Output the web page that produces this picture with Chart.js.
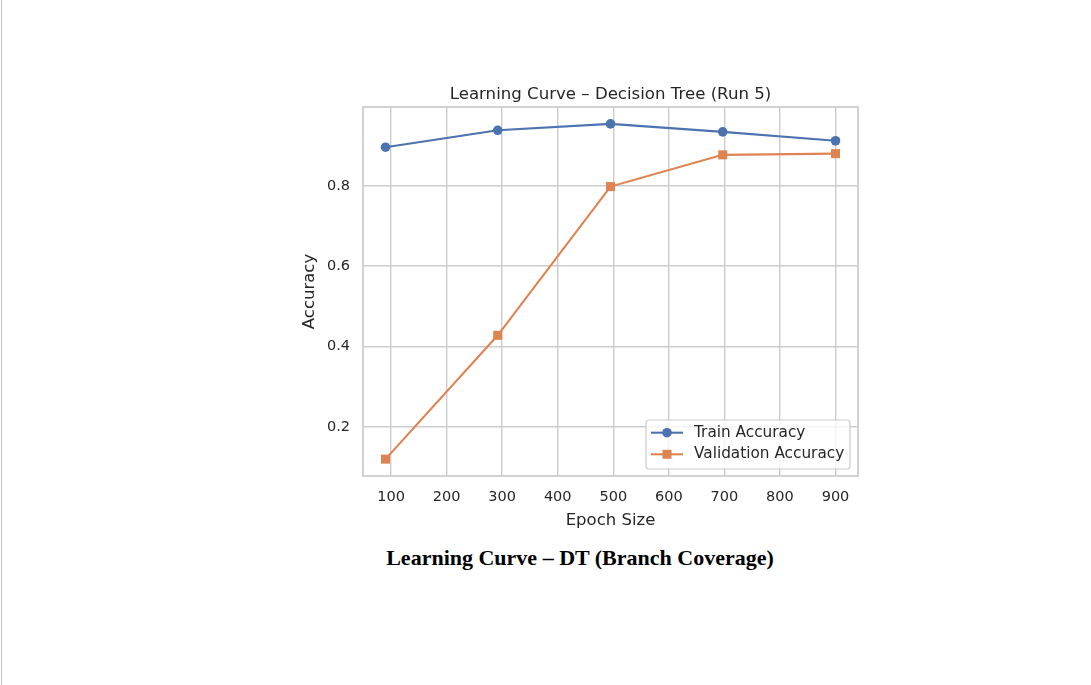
<!DOCTYPE html>
<html>
<head>
<meta charset="utf-8">
<script src="https://cdn.jsdelivr.net/npm/chart.js@4.4.1/dist/chart.umd.min.js"></script>
<style>
  html, body { margin: 0; padding: 0; background: #fff; }
  body { width: 1091px; height: 685px; position: relative; overflow: hidden; }
  #edge { position: absolute; left: 1px; top: 0; width: 1px; height: 685px; background: #c4c4c4; }
  #wrap { position: absolute; left: 280px; top: 70px; width: 600px; height: 470px; }
  #caption { position: absolute; left: 280px; width: 600px; top: 545px; text-align: center;
    font-family: "Liberation Serif", "Times New Roman", serif; font-weight: bold; font-size: 22px; color: #000; }
</style>
</head>
<body>
<div id="edge"></div>
<div id="wrap"><canvas id="c" width="600" height="470"></canvas></div>
<div id="caption">Learning Curve – DT (Branch Coverage)</div>
<script>
const epochSizes = [90, 292, 495, 697, 900];
const trainAccuracy = [0.896, 0.938, 0.954, 0.934, 0.912];
const validationAccuracy = [0.120, 0.428, 0.798, 0.877, 0.880];
const seriesNames = ["Train Accuracy", "Validation Accuracy"];
const xTicks = [100, 200, 300, 400, 500, 600, 700, 800, 900];
const yTicks = [0.2, 0.4, 0.6, 0.8];
const chartTitle = "Learning Curve – Decision Tree (Run 5)";
const xTitle = "Epoch Size";
const yTitle = "Accuracy";

const BLUE = "#4C72B0", ORANGE = "#DD8452", GRID = "#cccccc", TEXT = "#262626";
const FONT = "'DejaVu Sans', sans-serif";

function toPts(xs, ys) { return xs.map((x, i) => ({ x: x, y: ys[i] })); }

const titlePlugin = {
  id: 'areaTitle',
  afterDraw(chart) {
    const { ctx, chartArea: a } = chart;
    ctx.save();
    ctx.fillStyle = TEXT;
    ctx.font = "16.6px " + FONT;
    ctx.textAlign = "center";
    ctx.textBaseline = "middle";
    ctx.fillText(chartTitle, (a.left + a.right) / 2, 25);
    ctx.restore();
  }
};

const framePlugin = {
  id: 'frame',
  afterDatasetsDraw(chart) {
    const { ctx, chartArea: a } = chart;
    ctx.save();
    ctx.strokeStyle = GRID;
    ctx.lineWidth = 1.75;
    ctx.strokeRect(a.left, a.top, a.right - a.left, a.bottom - a.top);
    ctx.restore();
  }
};

const legendPlugin = {
  id: 'boxLegend',
  afterDraw(chart) {
    const { ctx, chartArea: a } = chart;
    const w = 204, h = 49;
    const right = a.right - 8, bottom = a.bottom - 7;
    const left = right - w, top = bottom - h;
    ctx.save();
    ctx.beginPath();
    if (ctx.roundRect) ctx.roundRect(left, top, w, h, 3); else ctx.rect(left, top, w, h);
    ctx.fillStyle = "rgba(255,255,255,0.8)";
    ctx.fill();
    ctx.strokeStyle = GRID;
    ctx.lineWidth = 1.2;
    ctx.stroke();
    const rows = [top + 12.7, top + 34.3];
    const colors = [BLUE, ORANGE];
    const styles = ['circle', 'rect'];
    rows.forEach((y, i) => {
      ctx.strokeStyle = colors[i];
      ctx.lineWidth = 2.1;
      ctx.beginPath();
      ctx.moveTo(left + 5, y);
      ctx.lineTo(left + 37, y);
      ctx.stroke();
      ctx.fillStyle = colors[i];
      if (styles[i] === 'circle') {
        ctx.beginPath(); ctx.arc(left + 21, y, 4.8, 0, Math.PI * 2); ctx.fill();
      } else {
        ctx.fillRect(left + 21 - 4.5, y - 4.5, 9, 9);
      }
      ctx.fillStyle = TEXT;
      ctx.font = "15.3px " + FONT;
      ctx.textBaseline = "middle";
      ctx.textAlign = "left";
      ctx.fillText(seriesNames[i], left + 48, y);
    });
    ctx.restore();
  }
};

new Chart(document.getElementById('c'), {
  type: 'line',
  data: {
    datasets: [
      { label: seriesNames[0], data: toPts(epochSizes, trainAccuracy), borderColor: BLUE, backgroundColor: BLUE,
        borderWidth: 2.1, pointStyle: 'circle', pointRadius: 4.8, pointBorderWidth: 0, pointHoverRadius: 4.8, tension: 0, fill: false },
      { label: seriesNames[1], data: toPts(epochSizes, validationAccuracy), borderColor: ORANGE, backgroundColor: ORANGE,
        borderWidth: 2.1, pointStyle: 'rect', pointRadius: 6.4, pointBorderWidth: 0, pointHoverRadius: 6.4, tension: 0, fill: false }
    ]
  },
  options: {
    responsive: false,
    animation: false,
    devicePixelRatio: 1,
    layout: { padding: { left: 0, right: 22, top: 37, bottom: 0 } },
    plugins: {
      legend: { display: false },
      tooltip: { enabled: false },
      title: { display: false }
    },
    scales: {
      x: {
        type: 'linear', min: 49.5, max: 940.5,
        afterFit(s) { s.height = 64; },
        afterBuildTicks(s) { s.ticks = xTicks.map(v => ({ value: v })); },
        ticks: { color: TEXT, font: { family: FONT, size: 14.5 }, padding: 13, maxRotation: 0 },
        grid: { color: GRID, lineWidth: 1.4, drawTicks: false },
        border: { display: false },
        title: { display: true, text: xTitle, color: TEXT, font: { family: FONT, size: 16.5 }, padding: { top: 0, bottom: 9 } }
      },
      y: {
        type: 'linear', min: 0.078, max: 0.996,
        afterFit(s) { s.width = 83; },
        afterBuildTicks(s) { s.ticks = yTicks.map(v => ({ value: v })); },
        ticks: { color: TEXT, font: { family: FONT, size: 14.5 }, padding: 13, callback: v => Number(v).toFixed(1) },
        grid: { color: GRID, lineWidth: 1.4, drawTicks: false },
        border: { display: false },
        title: { display: true, text: yTitle, color: TEXT, font: { family: FONT, size: 16.5 }, padding: { top: 20, bottom: 0 } }
      }
    }
  },
  plugins: [framePlugin, legendPlugin, titlePlugin]
});
</script>
</body>
</html>
